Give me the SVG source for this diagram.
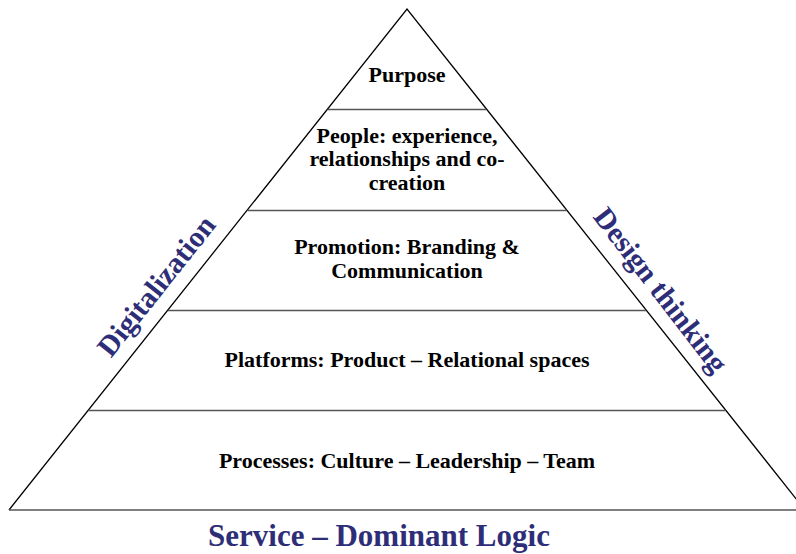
<svg xmlns="http://www.w3.org/2000/svg" width="796" height="554" viewBox="0 0 796 554">
<style>
.ln{stroke:#000;stroke-width:1.3;fill:none}
.t{font-family:"Liberation Serif","Times New Roman",serif;font-weight:bold;font-size:22px;fill:#000;text-anchor:middle}
.b{font-family:"Liberation Serif","Times New Roman",serif;font-weight:bold;font-size:31px;fill:#2E2E78;text-anchor:middle}
.r{font-size:29.5px}
</style>
<rect width="796" height="554" fill="#fff"/>
<g id="connectors">
<path class="ln" d="M9,510 L407,9 L805,510"/>
<line class="ln" x1="9" y1="510" x2="805" y2="510" style="stroke:#555;stroke-width:1.6"/>
<line class="ln" x1="327.6" y1="109.5" x2="486.4" y2="109.5" style="stroke:#555"/>
<line class="ln" x1="247.3" y1="210.5" x2="566.7" y2="210.5" style="stroke:#555"/>
<line class="ln" x1="168" y1="310.5" x2="646" y2="310.5" style="stroke:#555"/>
<line class="ln" x1="88.4" y1="410.5" x2="725.6" y2="410.5" style="stroke:#555"/>
</g>
<g id="purpose"><text class="t" x="407" y="82">Purpose</text></g>
<g id="people"><text class="t" x="407" y="143">People: experience,</text><text class="t" x="407" y="166">relationships and co-</text><text class="t" x="407" y="190">creation</text></g>
<g id="promotion"><text class="t" x="407" y="254">Promotion: Branding &amp;</text><text class="t" x="407" y="278">Communication</text></g>
<g id="platforms"><text class="t" x="407" y="367">Platforms: Product – Relational spaces</text></g>
<g id="processes"><text class="t" x="407" y="468">Processes: Culture – Leadership – Team</text></g>
<g id="digitalization"><text class="b r" transform="translate(164,292) rotate(-51.5)">Digitalization</text></g>
<g id="design-thinking"><text class="b r" transform="translate(653,296) rotate(52.5)">Design thinking</text></g>
<g id="sdl"><text class="b" x="379" y="546">Service – Dominant Logic</text></g>
</svg>
